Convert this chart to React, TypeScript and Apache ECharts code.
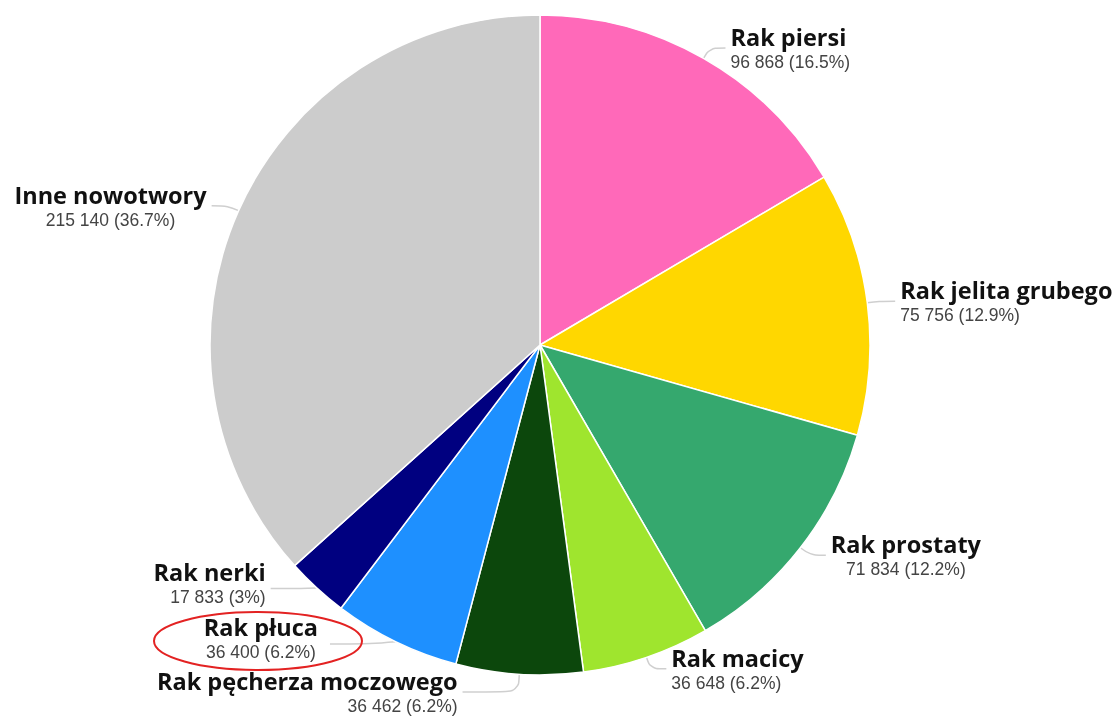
import React, { useEffect, useRef } from "react";
import * as echarts from "echarts";

const categories = [
  "Rak piersi",
  "Rak jelita grubego",
  "Rak prostaty",
  "Rak macicy",
  "Rak pęcherza moczowego",
  "Rak płuca",
  "Rak nerki",
  "Inne nowotwory",
];
const values = [96868, 75756, 71834, 36648, 36462, 36400, 17833, 215140];
const colors = ["#FF69B9", "#FFD700", "#35A86E", "#9FE52E", "#0C470C", "#1E90FF", "#000080", "#CCCCCC"];
// label text alignment inside each label block: l = left, c = center, r = right
const labelAlign = ["l", "l", "c", "l", "r", "c", "r", "c"];
// second segment length of each leader line
const leaderLength2 = [16, 16, 16, 16, 56, 40, 30, 16];
// small label nudges (px) relative to ECharts' automatic outside placement
const labelNudgeX = [0, 0, 0, 0, 0, -7, 0, 0];
const labelNudgeY = [0, 0, 0, 0, 0, -6, -5, 0];

const total = values.reduce((a, b) => a + b, 0);
const fmtNum = (v: number) => String(v).replace(/\B(?=(\d{3})+(?!\d))/g, " ");
const fmtPct = (v: number) => {
  const p = ((v / total) * 100).toFixed(1);
  return p.endsWith(".0") ? p.slice(0, -2) : p;
};

const nameStyle = { fontFamily: "Open Sans", fontWeight: "bold", fontSize: 23.5, color: "#111", lineHeight: 28 };
const valStyle = { fontFamily: "Liberation Sans", fontSize: 17.5, color: "#444", lineHeight: 22 };

export default function App() {
  const ref = useRef<HTMLDivElement>(null);
  useEffect(() => {
    const chart = echarts.init(ref.current!, null, { renderer: "svg" });
    chart.setOption({
      animation: false,
      series: [
        {
          type: "pie",
          center: [540, 345],
          radius: [0, 330],
          startAngle: 90,
          clockwise: true,
          avoidLabelOverlap: true,
          itemStyle: { borderColor: "#fff", borderWidth: 1.5 },
          data: categories.map((c, i) => ({
            name: c,
            value: values[i],
            itemStyle: { color: colors[i] },
            labelLine: { length2: leaderLength2[i] },
          })),
          label: {
            show: true,
            position: "outside",
            overflow: "none",
            bleedMargin: 0,
            formatter: (p: any) => {
              const a = labelAlign[p.dataIndex];
              return `{n${a}|${p.name}}\n{v${a}|${fmtNum(p.value)} (${fmtPct(p.value)}%)}`;
            },
            rich: {
              nl: { ...nameStyle, align: "left" },
              nc: { ...nameStyle, align: "center" },
              nr: { ...nameStyle, align: "right" },
              vl: { ...valStyle, align: "left" },
              vc: { ...valStyle, align: "center" },
              vr: { ...valStyle, align: "right" },
            },
          },
          labelLayout: (p: any) => {
            const i = p.dataIndex;
            if (!labelNudgeX[i] && !labelNudgeY[i]) return {};
            return { dx: labelNudgeX[i], dy: labelNudgeY[i] };
          },
          labelLine: {
            show: true,
            length: 12,
            length2: 16,
            smooth: 0.4,
            lineStyle: { color: "#cfcfcf", width: 1.5 },
          },
        },
      ],
      graphic: [
        {
          type: "ellipse",
          shape: { cx: 258, cy: 641, rx: 104, ry: 29 },
          style: { fill: "none", stroke: "#E32222", lineWidth: 2 },
          z: 100,
        },
      ],
    });
    return () => chart.dispose();
  }, []);
  return <div ref={ref} style={{ position: "fixed", left: 0, top: 0, width: 1117, height: 716 }} />;
}
